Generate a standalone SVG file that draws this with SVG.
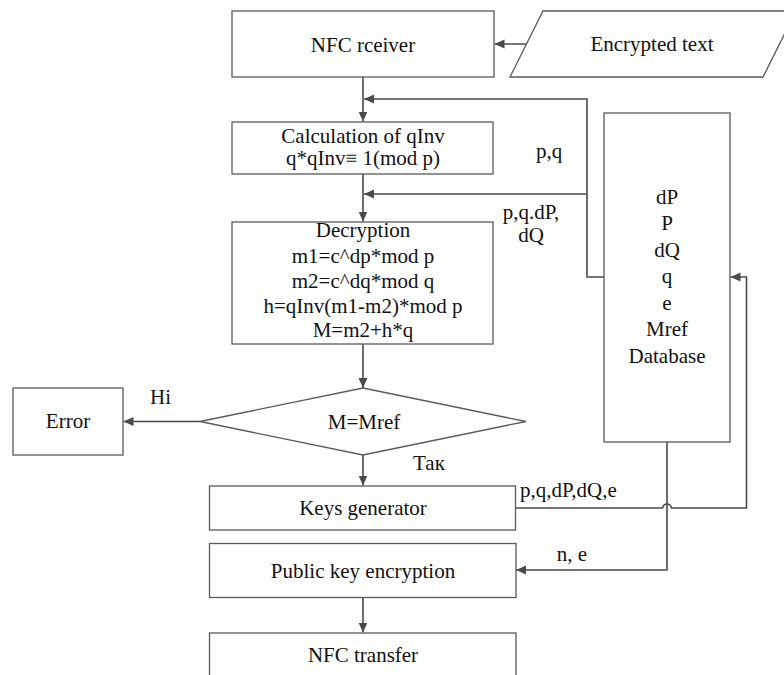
<svg xmlns="http://www.w3.org/2000/svg" width="784" height="675" viewBox="0 0 784 675">
  <style>
    .box { fill: #ffffff; stroke: #5a5a5a; stroke-width: 1.3; }
    .line { fill: none; stroke: #4a4a4a; stroke-width: 1.6; }
    .arr { marker-end: url(#arrow); }
    .t { font-family: "Times New Roman", serif; font-size: 21px; fill: #111111; }
    .c { text-anchor: middle; }
  </style>
  <defs>
    <marker id="arrow" markerUnits="userSpaceOnUse" markerWidth="11" markerHeight="10" refX="10" refY="4.5" orient="auto">
      <path d="M0,0 L10,4.5 L0,9 z" fill="#4a4a4a"/>
    </marker>
  </defs>
  <rect width="784" height="675" fill="#ffffff"/>

  <!-- connectors and their labels -->
  <g id="connectors">
    <path class="line arr" d="M526.5,44 H494.5"/>
    <path class="line arr" d="M363,77 V121.5"/>
    <path class="line arr" d="M604,277 H587 V99 H364"/>
    <path class="line arr" d="M587,194 H364"/>
    <path class="line arr" d="M363,174 V221.5"/>
    <path class="line arr" d="M363,344 V388"/>
    <path class="line arr" d="M200,421.5 H123.5"/>
    <path class="line arr" d="M363,455 V485.5"/>
    <!-- line hop where it crosses the database output -->
    <path class="line arr" d="M515.5,508 H662.5 Q663.5,504 667,504 Q670.5,504 671.5,508 H746.5 V277 H730.5"/>
    <path class="line arr" d="M667,442 V570 H516"/>
    <path class="line arr" d="M363,597.5 V632.5"/>
    <text class="t c" x="549" y="158">p,q</text>
    <text class="t c" x="531" y="219">p,q.dP,</text>
    <text class="t c" x="531" y="242">dQ</text>
    <text class="t c" x="160.5" y="404">Hi</text>
    <text class="t" x="413" y="470">Так</text>
    <text class="t" x="520" y="496.5">p,q,dP,dQ,e</text>
    <text class="t c" x="572" y="561">n, e</text>
  </g>

  <g id="nfc-receiver">
    <rect class="box" x="232" y="11" width="262" height="66"/>
    <text class="t c" x="363" y="51.5">NFC rceiver</text>
  </g>

  <g id="encrypted-text">
    <polygon class="box" points="543,11 796,11 763,77 510,77"/>
    <text class="t c" x="652" y="51">Encrypted text</text>
  </g>

  <g id="calc-qinv">
    <rect class="box" x="232" y="122" width="261" height="52"/>
    <text class="t c" x="363" y="142.5">Calculation of qInv</text>
    <text class="t c" x="363" y="165">q*qInv≡ 1(mod p)</text>
  </g>

  <g id="decryption">
    <rect class="box" x="232" y="222" width="261" height="122"/>
    <text class="t c" x="363" y="237">Decryption</text>
    <text class="t c" x="363" y="262.5">m1=c^dp*mod p</text>
    <text class="t c" x="363" y="288">m2=c^dq*mod q</text>
    <text class="t c" x="363" y="312.5">h=qInv(m1-m2)*mod p</text>
    <text class="t c" x="363" y="337">M=m2+h*q</text>
  </g>

  <g id="database">
    <rect class="box" x="604" y="113" width="126" height="329"/>
    <text class="t c" x="667" y="203.5">dP</text>
    <text class="t c" x="667" y="230">P</text>
    <text class="t c" x="667" y="256.5">dQ</text>
    <text class="t c" x="667" y="283">q</text>
    <text class="t c" x="667" y="309.5">e</text>
    <text class="t c" x="667" y="336">Mref</text>
    <text class="t c" x="667" y="362.5">Database</text>
  </g>

  <g id="check-m">
    <polygon class="box" points="363,388 526,421.5 363,455 200,421.5"/>
    <text class="t c" x="364" y="428.5">M=Mref</text>
  </g>

  <g id="error">
    <rect class="box" x="13" y="388" width="110" height="67"/>
    <text class="t c" x="68" y="428">Error</text>
  </g>

  <g id="keys-generator">
    <rect class="box" x="209.5" y="486" width="306" height="44"/>
    <text class="t c" x="363" y="515">Keys generator</text>
  </g>

  <g id="public-key-encryption">
    <rect class="box" x="209.5" y="543.5" width="306.5" height="54"/>
    <text class="t c" x="363" y="578">Public key encryption</text>
  </g>

  <g id="nfc-transfer">
    <rect class="box" x="209.5" y="633" width="306.5" height="60"/>
    <text class="t c" x="363" y="661.5">NFC transfer</text>
  </g>
</svg>
